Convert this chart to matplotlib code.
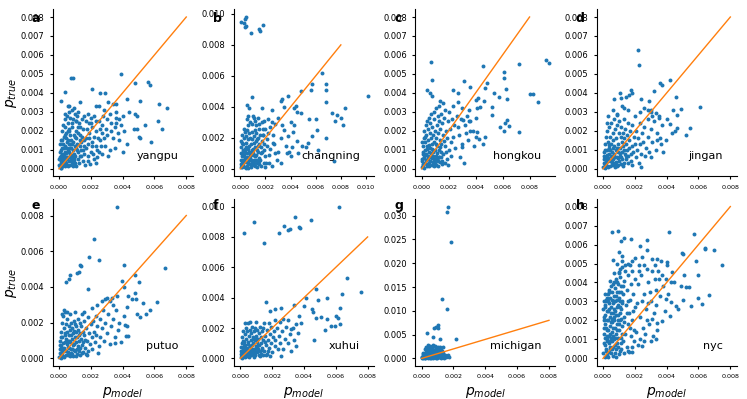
import numpy as np
import matplotlib
matplotlib.use('Agg')
import matplotlib.pyplot as plt
from matplotlib.ticker import MultipleLocator, FormatStrFormatter

# values below are in units of 1e-3 (p_model, p_true)
districts = ['yangpu', 'changning', 'hongkou', 'jingan', 'putuo', 'xuhui', 'michigan', 'nyc']
letters = ['a', 'b', 'c', 'd', 'e', 'f', 'g', 'h']
y_steps = [0.001, 0.002, 0.001, 0.001, 0.002, 0.002, 0.005, 0.001]
diag = [0.0, 0.008]

yangpu_pts = [
    (0.75,4.8),(0.88,4.8),(0.36,4.06),(0.15,3.6),(0.57,3.3),(1.3,3.5),(2.1,4.2),(2.6,4.0),(2.9,4.0),(3.9,5.0),
    (4.75,4.5),(5.6,4.6),(5.7,4.4),(4.3,3.7),(5.1,3.6),(6.3,3.4),(6.8,3.2),(6.2,2.5),(6.5,2.1),(5.8,1.4),
    (5.0,1.7),(5.1,1.6),(5.4,2.3),(4.7,2.1),(4.9,2.1),(4.4,3.0),(4.8,2.9),(4.9,2.8),(4.3,1.3),(4.0,0.9),
    (3.8,1.5),(3.6,2.7),(3.6,2.4),(3.5,2.2),(3.1,3.5),(3.4,3.4),(3.6,3.4),(2.4,0.6),(2.3,0.3),
    (1.8,2.9),(2.0,2.7),(2.2,2.8),(2.5,2.5),(2.7,2.3),(3.0,2.6),(3.2,2.9),(2.8,3.1),(3.3,2.0),(3.0,1.8),
    (2.6,1.5),(2.9,1.2),(3.2,1.0),(2.4,1.0),(2.1,1.4),(1.9,1.9),(2.3,2.0),(2.7,1.9),(3.4,1.6),(3.7,1.9),
    (3.9,2.3),(4.1,2.0),(3.8,2.6),(4.0,2.8),(3.5,1.1),(3.1,0.7),(2.7,0.8),(2.2,0.5),(1.8,0.4),(2.0,0.9),
    (1.6,1.2),(1.7,1.6),(2.5,3.3),(2.3,3.3),(1.9,2.4),(2.1,2.2),(3.6,3.0),(3.3,2.4),
    (0.05,0.1),(0.1,0.3),(0.15,0.05),(0.2,0.5),(0.25,0.2),(0.3,0.8),(0.35,0.4),(0.4,1.2),(0.45,0.6),(0.5,0.2),
    (0.55,1.5),(0.6,0.9),(0.65,0.4),(0.7,1.8),(0.75,1.1),(0.8,0.6),(0.85,2.2),(0.9,1.4),(0.95,0.8),(1.0,0.3),
    (1.05,2.0),(1.1,1.6),(1.15,1.0),(1.2,0.5),(1.25,2.4),(1.3,1.8),(1.35,1.2),(1.4,0.7),(1.45,2.6),(1.5,2.1),
    (0.1,1.0),(0.15,1.5),(0.2,2.0),(0.25,2.3),(0.3,1.7),(0.35,2.6),(0.4,2.2),(0.45,1.9),(0.5,2.8),(0.55,2.4),
    (0.6,3.0),(0.65,2.1),(0.7,2.7),(0.8,3.1),(0.9,2.6),(1.0,2.9),(1.1,2.5),(1.2,3.0),(1.3,2.2),(0.02,0.5),
    (0.05,0.9),(0.08,1.3),(0.12,0.7),(0.18,1.1),(0.22,0.15),(0.28,1.3),(0.32,0.25),(0.38,0.9),(0.42,1.6),(0.48,1.1),
    (0.52,0.5),(0.58,0.15),(0.62,1.3),(0.68,0.8),(0.72,0.2),(0.78,1.5),(0.82,0.35),(0.88,1.0),(0.92,1.8),(0.98,1.2),
    (1.02,0.7),(1.08,0.15),(1.12,1.3),(1.18,1.9),(1.22,0.9),(1.28,0.3),(1.32,1.5),(1.38,1.0),(1.42,1.7),(1.48,0.4),
    (0.03,0.2),(0.07,0.6),(0.1,0.05),(0.13,0.4),(0.17,0.8),(0.23,0.6),(0.27,0.35),(0.33,0.55),(0.37,0.15),(0.43,0.3),
    (0.47,0.85),(0.53,0.65),(0.57,1.0),(0.63,0.6),(0.67,1.1),(0.73,0.45),(0.77,0.75),(0.83,0.55),(0.87,0.15),(0.93,0.45),
    (0.97,0.55),(1.6,0.8),(1.65,0.2),(1.7,1.1),(1.75,2.1),(1.8,1.3),(1.85,0.7),(1.9,1.6),(1.95,0.25),(2.0,2.4),
    (2.05,1.2),(2.15,0.8),(2.2,1.7),(2.3,1.2),(2.35,2.5),(2.45,1.6),(2.5,0.9),(2.55,2.1),(2.65,1.2),(2.75,2.8),
    (2.85,1.6),(2.95,2.1),(1.55,1.5),(1.6,2.8),(1.7,2.5),(1.15,2.8),(0.95,3.2),(0.6,3.3),(0.4,2.9),
    (0.2,1.5),(0.3,1.1),(0.4,0.5),(0.5,1.4),(0.6,2.0),(0.7,1.3),(0.8,2.4),(0.9,0.3),(1.0,1.7),(1.1,1.1),
    (1.2,2.2),(1.3,0.7),(1.4,1.4),(1.5,1.0),(0.55,2.0),(0.85,1.3),(1.05,2.5),(0.35,1.8),
]

changning_pts = [
    (0.05,9.45),(0.27,9.4),(0.4,9.7),(0.45,9.8),(0.35,9.15),(0.48,9.2),(0.85,8.8),(1.47,9.05),(1.6,8.9),(1.79,9.3),
    (0.93,4.65),(0.53,4.1),(0.67,3.9),(1.73,3.9),(2.53,3.8),(3.2,4.4),(3.33,4.5),(3.8,4.7),(3.47,4.0),(4.27,3.95),
    (4.4,4.05),(4.8,5.0),(5.6,5.1),(5.73,5.5),(6.53,6.2),(6.8,5.5),(6.8,5.1),(6.85,4.3),(7.33,3.6),(7.73,3.5),
    (8.0,3.3),(7.5,3.1),(8.2,2.8),(8.3,3.9),(10.13,4.7),(6.0,3.2),(5.47,3.2),(4.8,3.6),(4.53,3.65),(6.13,2.5),
    (5.73,2.1),(6.8,2.0),(6.2,1.2),(5.4,1.7),(5.25,1.4),(7.47,0.5),(4.0,0.8),(3.2,0.35),(3.73,1.0),(4.93,1.45),
    (4.6,1.0),
    (2.5,3.0),(2.8,2.9),(3.0,3.3),(2.2,3.2),(2.0,2.6),(2.6,2.2),(3.2,2.0),(3.5,2.5),(3.8,2.1),(4.2,2.4),
    (4.5,1.8),(3.6,1.5),(3.0,1.1),(2.7,1.6),(2.4,1.3),(2.9,0.6),(2.3,0.4),(4.1,1.4),(3.3,2.8),(4.0,3.0),
    (4.3,2.8),(3.9,1.1),(2.1,1.9),(1.8,2.2),(1.5,2.6),(1.2,3.1),(1.0,3.4),(0.6,3.4),(0.9,2.9),(1.4,3.3),
    (1.7,3.0),
    (0.05,0.1),(0.1,0.4),(0.15,0.8),(0.2,1.2),(0.25,1.6),(0.3,2.0),(0.35,2.4),(0.1,2.2),(0.05,1.8),(0.08,1.4),
    (0.12,1.0),(0.18,0.6),(0.22,0.2),(0.28,0.5),(0.32,0.9),(0.38,1.3),(0.42,1.7),(0.48,2.1),(0.52,2.5),(0.58,2.8),
    (0.62,1.9),(0.68,1.5),(0.72,1.1),(0.78,0.7),(0.82,0.3),(0.88,0.1),(0.92,0.5),(0.98,0.9),(1.02,1.3),(1.08,1.7),
    (1.12,2.1),(1.18,2.5),(1.22,2.8),(1.28,2.3),(1.32,1.9),(1.38,1.5),(1.42,1.1),(1.48,0.7),(1.52,0.3),(1.58,0.6),
    (1.62,1.0),(1.68,1.4),(1.72,1.8),(1.78,2.2),(1.82,2.6),(1.88,1.6),(1.92,1.2),(1.98,0.8),(2.05,0.4),(2.1,1.5),
    (2.2,2.3),(2.3,0.9),(0.4,0.15),(0.45,0.45),(0.55,0.75),(0.6,0.35),(0.65,0.05),(0.7,2.3),(0.75,2.0),(0.85,1.6),
    (0.9,2.4),(0.95,1.2),(1.05,0.6),(1.15,0.2),(1.25,0.9),(1.35,0.4),(1.45,1.6),(1.55,2.2),(1.65,0.2),(1.75,1.1),
    (1.85,0.4),(0.02,0.6),(0.03,1.0),(0.06,0.3),(0.14,0.15),(0.16,1.7),(0.24,0.35),(0.26,2.6),(0.34,0.7),(0.36,1.1),
    (0.44,0.05),(0.46,1.4),(0.54,1.0),(0.56,0.2),(0.64,1.3),(0.66,0.55),(0.74,0.9),(0.76,0.3),(0.84,1.1),(0.86,0.6),
    (0.94,0.25),(0.96,1.9),(1.04,1.0),(1.06,0.35),(1.14,1.4),(1.16,0.8),(1.24,0.55),(1.26,1.8),(1.34,1.2),(1.36,0.15),
    (1.44,2.0),(1.46,0.5),(0.5,3.2),(0.8,3.0),(1.1,3.3),(1.5,2.9),(1.9,3.1),(2.4,2.7),(2.6,1.7),(2.8,1.0),
    (2.5,0.2),(2.0,0.1),
]

hongkou_pts = [
    (0.67,5.62),(0.75,4.69),(0.37,4.13),(0.62,4.02),(0.8,3.85),(1.37,3.55),(1.57,3.46),(2.31,4.17),(2.73,4.02),(3.16,4.64),
    (3.6,4.3),(4.55,5.4),(4.72,4.25),(4.84,4.52),(5.39,4.02),(5.7,3.81),(6.09,4.78),(6.09,5.1),(6.29,4.2),(6.34,3.67),
    (7.2,5.54),(9.22,5.71),(9.44,5.57),(8.07,3.94),(8.25,3.94),(8.65,3.51),(7.25,1.92),(6.34,2.55),(6.46,2.27),(5.79,2.23),
    (6.09,1.97),(6.21,2.41),(5.22,3.25),(5.22,2.85),(4.72,1.7),(4.55,1.32),(4.22,1.56),(4.1,1.92),(4.05,1.7),(3.6,2.02),
    (3.1,2.58),(3.35,2.79),(3.48,2.53),(4.1,3.2),(4.35,3.25),(4.05,3.62),(4.6,3.55),(4.15,3.74),(2.81,0.65),(3.16,0.33),
    (2.98,1.14),(3.85,1.18),(3.4,1.53),
    (0.02,0.1),(0.05,0.4),(0.08,0.8),(0.1,1.2),(0.12,0.2),(0.15,1.6),(0.18,0.6),(0.2,2.0),(0.22,1.0),(0.25,0.3),
    (0.28,1.4),(0.3,2.3),(0.32,0.8),(0.35,1.8),(0.38,0.15),(0.4,2.5),(0.42,1.2),(0.45,0.5),(0.48,2.1),(0.5,1.5),
    (0.52,0.9),(0.55,2.7),(0.58,0.3),(0.6,1.9),(0.62,1.1),(0.65,2.4),(0.68,0.6),(0.7,1.6),(0.72,2.9),(0.75,1.3),
    (0.78,0.2),(0.8,2.2),(0.82,0.9),(0.85,1.8),(0.88,3.0),(0.9,0.5),(0.92,1.4),(0.95,2.6),(0.98,1.0),(1.0,2.0),
    (1.02,0.3),(1.05,3.2),(1.08,1.6),(1.1,0.7),(1.12,2.3),(1.15,1.2),(1.18,2.8),(1.2,0.4),(1.22,1.9),(1.25,1.0),
    (1.28,3.3),(1.3,2.5),(1.32,0.6),(1.35,1.5),(1.38,2.1),(1.4,0.9),(1.42,2.9),(1.45,1.3),(1.48,0.25),(1.5,2.4),
    (1.55,1.8),(1.6,0.8),(1.65,2.7),(1.7,1.2),(1.75,3.1),(1.8,2.0),(1.85,0.5),(1.9,1.6),(1.95,2.5),(2.0,1.0),
    (2.05,3.0),(2.1,2.1),(2.15,1.4),(2.2,0.7),(2.25,2.6),(2.3,1.7),(2.4,2.3),(2.5,1.1),(0.03,0.5),(0.06,1.4),
    (0.09,0.25),(0.13,0.9),(0.17,0.05),(0.21,0.55),(0.24,1.7),(0.27,0.75),(0.33,0.45),(0.37,1.05),(0.43,0.25),(0.47,0.7),
    (0.53,0.15),(0.57,1.25),(0.63,0.4),(0.67,0.85),(0.73,0.55),(0.77,1.05),(0.83,0.35),(0.87,0.7),(0.93,0.15),(0.97,0.45),
    (1.03,1.3),(1.07,0.2),(1.13,0.5),(1.17,0.85),(1.23,0.15),(1.27,0.65),(1.33,1.15),(1.37,0.35),(1.43,0.6),(1.53,0.4),
    (1.63,1.45),(1.73,0.3),(1.83,0.9),(1.93,0.2),(2.6,2.8),(2.7,2.2),(2.8,1.8),(2.9,2.6),(3.0,1.3),(3.2,2.3),
    (3.3,1.9),(3.5,3.1),(3.6,2.5),(3.8,2.0),(4.0,2.7),(2.35,3.3),(2.7,3.5),(3.0,3.2),
]

jingan_pts = [
    (2.21,6.24),(2.25,5.45),(1.73,4.17),(1.05,3.99),(0.67,3.67),(1.14,3.73),(1.47,3.81),(1.62,3.9),(1.83,4.02),(2.36,3.69),
    (3.2,4.08),(3.58,4.52),(3.73,4.41),(4.19,4.69),(4.57,3.78),(4.42,3.08),(4.67,2.85),(4.93,3.15),(6.11,3.25),(5.47,2.14),
    (5.24,1.79),(4.63,2.14),(4.36,1.88),(4.5,1.97),(4.19,2.37),(3.94,1.53),(3.62,1.3),(3.41,1.53),(2.99,0.65),(2.36,0.12),
    (0.25,2.44),(0.88,2.85),(1.31,3.2),(2.88,3.55),(3.03,3.11),(3.3,2.93),(3.52,2.67),
    (0.02,0.1),(0.05,0.5),(0.08,0.9),(0.1,0.2),(0.12,1.3),(0.15,0.6),(0.18,1.7),(0.2,0.3),(0.22,1.0),(0.25,2.0),
    (0.28,0.5),(0.3,1.4),(0.32,0.1),(0.35,0.8),(0.38,2.2),(0.4,1.1),(0.42,0.4),(0.45,1.7),(0.48,0.7),(0.5,2.4),
    (0.52,1.3),(0.55,0.2),(0.58,0.9),(0.6,1.9),(0.62,0.5),(0.65,1.5),(0.68,2.6),(0.7,0.8),(0.72,1.2),(0.75,0.3),
    (0.78,2.1),(0.8,1.0),(0.82,1.6),(0.85,0.6),(0.88,2.3),(0.9,0.15),(0.92,1.3),(0.95,0.9),(0.98,1.9),(1.0,0.4),
    (1.02,2.5),(1.05,1.1),(1.08,0.7),(1.1,1.7),(1.12,0.25),(1.15,2.2),(1.18,1.4),(1.2,0.9),(1.22,0.5),(1.25,1.9),
    (1.28,1.2),(1.3,2.6),(1.32,0.3),(1.35,1.6),(1.38,0.8),(1.4,2.1),(1.42,1.3),(1.45,0.5),(1.48,1.8),(1.5,1.0),
    (1.55,2.4),(1.6,0.7),(1.65,1.5),(1.7,2.0),(1.75,0.4),(1.8,1.2),(1.85,2.3),(1.9,0.9),(1.95,1.7),(2.0,1.3),
    (2.05,0.6),(2.1,2.0),(2.15,1.0),(2.2,1.6),(2.25,0.3),(2.3,2.4),(2.35,1.3),(2.4,0.8),(2.45,1.9),(2.5,1.4),
    (2.6,2.2),(2.65,0.7),(2.7,1.1),(2.8,2.6),(2.85,1.7),(2.9,0.9),(3.0,2.1),(3.1,1.4),(3.2,2.5),(3.3,1.0),
    (3.4,1.9),(3.5,2.8),(3.6,1.6),(3.7,2.3),(3.8,0.9),(4.0,2.6),(0.04,0.3),(0.07,0.7),(0.11,0.05),(0.14,1.0),
    (0.17,0.35),(0.24,0.75),(0.27,0.15),(0.34,0.55),(0.37,1.25),(0.44,0.15),(0.47,1.0),(0.54,0.55),(0.57,0.35),(0.64,1.1),
    (0.67,0.2),(0.74,0.6),(0.77,0.1),(0.84,0.35),(0.87,1.1),(0.94,0.55),(0.97,0.2),(1.04,0.85),(1.14,0.6),(1.24,0.15),
    (1.34,1.0),(1.44,0.7),(1.54,0.3),(1.64,1.1),(1.74,0.8),(1.84,0.2),(0.3,2.8),(0.6,3.1),(0.9,2.9),(1.2,3.3),
    (1.6,3.1),(2.0,2.8),(2.3,3.0),(2.6,3.2),(2.8,3.1),(3.0,3.0),(3.1,2.8),
]

putuo_pts = [
    (3.63,8.5),(2.22,6.68),(1.86,5.66),(2.53,5.53),(1.35,5.25),(1.37,5.16),(1.14,4.79),(1.24,4.82),(0.68,4.69),(0.61,4.45),
    (0.46,4.27),(1.84,3.9),(4.09,5.25),(6.69,5.06),(4.75,4.69),(3.95,4.36),(4.09,4.0),(5.06,4.27),(6.16,3.15),(5.7,2.71),
    (5.44,2.47),(4.89,2.47),(5.1,2.34),(4.85,3.3),(5.27,3.12),(4.81,3.64),(4.37,3.49),(4.6,3.34),(4.26,2.89),(3.63,3.49),
    (3.31,3.4),(3.0,3.36),(4.16,1.87),(4.37,1.26),(4.22,1.26),(3.52,0.85),(2.43,0.33),(1.73,0.24),
    (0.02,0.1),(0.05,0.5),(0.08,1.0),(0.1,0.2),(0.12,1.5),(0.15,0.7),(0.18,2.0),(0.2,0.3),(0.22,1.2),(0.25,2.4),
    (0.28,0.5),(0.3,1.7),(0.32,0.1),(0.35,0.9),(0.38,2.6),(0.4,1.3),(0.42,0.4),(0.45,1.9),(0.48,0.8),(0.5,2.2),
    (0.52,1.5),(0.55,0.2),(0.58,1.0),(0.6,1.8),(0.62,0.6),(0.65,1.3),(0.68,2.5),(0.7,0.9),(0.72,1.6),(0.75,0.3),
    (0.78,2.0),(0.8,1.1),(0.82,1.7),(0.85,0.5),(0.88,1.4),(0.9,0.15),(0.92,2.1),(0.95,0.8),(0.98,1.2),(1.0,1.9),
    (1.02,0.4),(1.05,1.5),(1.08,0.9),(1.1,1.8),(1.12,0.25),(1.15,1.2),(1.18,2.2),(1.2,0.7),(1.22,1.6),(1.25,0.4),
    (1.28,1.0),(1.3,2.0),(1.32,1.4),(1.35,0.6),(1.38,1.8),(1.4,1.1),(1.42,2.5),(1.45,0.3),(1.48,1.5),(1.5,0.9),
    (1.55,2.1),(1.6,1.3),(1.65,0.6),(1.7,1.7),(1.75,1.0),(1.8,2.3),(1.85,0.4),(1.9,1.4),(1.95,0.8),(2.0,1.9),
    (2.05,1.2),(2.1,0.5),(2.15,2.1),(2.2,1.5),(2.25,0.9),(2.3,2.4),(2.35,1.3),(2.4,1.8),(2.5,0.7),(2.55,2.2),
    (2.6,1.2),(2.7,1.7),(2.75,2.7),(2.8,1.0),(2.9,2.0),(3.0,1.4),(3.1,2.5),(3.2,0.8),(3.3,1.8),(3.4,2.2),
    (3.5,1.2),(3.6,2.7),(3.7,1.6),(3.8,2.0),(3.9,0.9),(4.1,2.4),(4.3,1.8),(0.04,0.3),(0.07,0.75),(0.11,0.05),
    (0.14,1.2),(0.17,0.4),(0.24,0.85),(0.27,0.15),(0.34,0.6),(0.37,1.45),(0.44,0.2),(0.47,1.1),(0.54,0.65),(0.57,0.35),
    (0.64,0.95),(0.67,0.15),(0.74,0.55),(0.77,1.3),(0.84,0.25),(0.87,0.75),(0.94,0.45),(0.97,1.55),(1.04,0.15),(1.14,0.55),
    (1.24,1.3),(1.34,0.2),(1.44,0.75),(1.54,0.35),(1.64,1.05),(1.74,0.2),(0.3,2.7),(0.5,2.6),(0.2,2.5),(1.0,2.6),
    (1.6,2.6),(2.1,2.8),(2.4,3.0),(2.7,3.2),(3.2,3.2),(2.9,3.3),(3.4,3.0),
]

xuhui_pts = [
    (0.25,8.26),(0.84,8.96),(1.51,7.61),(2.45,8.26),(2.72,8.7),(2.97,8.44),(3.14,8.52),(3.46,9.31),(3.66,8.66),(3.77,8.59),
    (4.44,9.14),(6.18,10.0),(6.68,5.31),(6.39,4.26),(7.58,4.37),(4.75,4.59),(5.42,3.96),(4.86,3.83),(4.48,3.28),(4.59,3.06),
    (4.75,2.69),(5.07,2.76),(5.44,2.62),(5.7,2.14),(5.34,1.88),(5.97,2.14),(6.01,2.8),(6.16,2.69),(6.26,2.25),(6.28,3.34),
    (4.02,3.45),(4.13,4.0),(1.63,3.72),(1.88,3.13),(2.2,3.23),(2.55,3.34),(3.39,3.5),(3.71,2.8),(3.5,2.25),(3.18,1.92),
    (3.5,0.83),(4.65,1.22),(2.55,0.13),
    (0.02,0.1),(0.05,0.5),(0.08,1.0),(0.1,0.2),(0.12,1.4),(0.15,0.7),(0.18,1.8),(0.2,0.3),(0.22,1.1),(0.25,0.5),
    (0.28,1.6),(0.3,0.15),(0.32,0.9),(0.35,2.0),(0.38,1.3),(0.4,0.4),(0.42,1.8),(0.45,0.7),(0.48,1.1),(0.5,2.3),
    (0.52,0.3),(0.55,1.5),(0.58,0.8),(0.6,1.9),(0.62,0.5),(0.65,1.2),(0.68,0.2),(0.7,1.7),(0.72,0.9),(0.75,2.1),
    (0.78,0.4),(0.8,1.4),(0.82,1.0),(0.85,0.6),(0.88,1.8),(0.9,0.2),(0.92,1.2),(0.95,2.0),(0.98,0.8),(1.0,1.5),
    (1.02,0.4),(1.05,1.1),(1.08,1.9),(1.1,0.6),(1.12,1.3),(1.15,0.2),(1.18,1.7),(1.2,0.9),(1.22,2.1),(1.25,0.5),
    (1.28,1.4),(1.3,1.0),(1.32,0.3),(1.35,1.8),(1.38,0.7),(1.4,1.2),(1.45,2.0),(1.5,0.5),(1.55,1.5),(1.6,0.9),
    (1.65,1.9),(1.7,0.3),(1.75,1.2),(1.8,0.7),(1.85,1.6),(1.9,2.1),(1.95,1.0),(2.0,0.4),(2.05,1.4),(2.1,1.8),
    (2.15,0.8),(2.2,1.2),(2.3,2.0),(2.35,0.6),(2.4,1.5),(2.5,1.0),(2.6,1.8),(2.7,0.6),(2.8,1.3),(2.9,2.1),
    (3.0,1.0),(3.1,1.6),(3.2,0.5),(3.3,2.0),(3.4,1.2),(3.6,1.7),(3.8,2.3),(2.5,2.4),(2.2,2.5),(1.8,2.3),
    (1.5,2.3),(2.7,2.6),(3.0,2.5),(0.3,2.3),(0.6,2.4),(1.0,2.4),(0.04,0.3),(0.07,0.75),(0.11,0.05),(0.14,1.15),
    (0.17,0.4),(0.24,0.85),(0.27,0.1),(0.34,0.6),(0.37,0.25),(0.44,0.15),(0.47,0.95),(0.54,0.55),(0.57,0.1),(0.64,0.85),
    (0.67,0.45),(0.74,0.6),(0.77,1.25),(0.84,0.3),(0.87,0.1),(0.94,0.5),(0.97,1.25),(1.04,0.7),(1.14,0.9),(1.24,0.15),
    (1.34,0.55),(1.44,0.25),(1.54,1.1),(1.64,0.2),(1.74,0.5),(1.84,0.15),
]

michigan_pts = [
    (1.68,31.9),(1.61,30.8),(1.82,24.4),(1.26,12.4),(1.57,10.4),(2.14,4.0),(0.31,5.4),(0.77,6.3),(0.9,6.5),(1.0,7.0),
    (1.0,6.3),(1.15,4.0),(0.73,4.5),(1.32,2.3),
    (0.02,0.05),(0.05,0.2),(0.08,0.5),(0.1,0.1),(0.12,0.8),(0.15,0.3),(0.18,1.1),(0.2,0.05),(0.22,0.6),(0.25,1.4),
    (0.28,0.2),(0.3,0.9),(0.32,0.4),(0.35,1.7),(0.38,0.1),(0.4,0.7),(0.42,1.2),(0.45,0.3),(0.48,2.0),(0.5,0.5),
    (0.52,1.0),(0.55,0.15),(0.58,1.5),(0.6,0.6),(0.62,0.3),(0.65,2.3),(0.68,0.9),(0.7,0.1),(0.72,1.3),(0.75,0.5),
    (0.78,1.8),(0.8,0.25),(0.82,0.8),(0.85,1.1),(0.88,0.4),(0.9,2.1),(0.92,0.6),(0.95,0.15),(0.98,1.4),(1.0,0.9),
    (1.02,0.35),(1.05,1.7),(1.08,0.6),(1.1,0.2),(1.12,1.0),(1.15,2.4),(1.18,0.45),(1.2,1.3),(1.25,0.7),(1.3,0.3),
    (1.35,1.1),(1.4,0.5),(1.45,0.8),(1.5,0.4),(1.55,0.6),(0.04,0.35),(0.14,0.6),(0.24,0.15),(0.34,0.75),(0.44,0.45),
    (0.54,0.7),(0.64,0.2),(0.74,0.95),(0.84,0.5),(0.94,0.25),(1.04,0.55),(1.14,0.3),(0.3,2.5),(0.4,2.8),(0.55,2.6),
    (0.7,2.9),(0.85,2.7),(1.0,2.5),(0.2,1.9),(0.6,2.1),
    (1.6,0.5),(1.7,0.3),(1.65,0.8),(1.3,1.5),(1.2,1.8),(1.1,1.5),(0.95,1.9),(0.8,1.5),(0.7,1.7),(0.5,1.6),
    (0.45,1.3),(0.35,1.1),(0.25,0.9),(0.15,0.6),(0.06,0.9),(0.1,1.2),(0.58,0.05),(0.88,0.05),(1.2,0.1),(1.4,0.15),
    (0.3,0.45),(0.47,0.85),(0.67,1.15),(0.87,1.35),(1.07,1.2),(1.28,1.0),(0.62,1.9),(0.92,2.3),(1.05,2.1),(0.38,2.2),
]

nyc_pts = [
    (0.57,6.68),(0.95,6.72),(1.14,6.19),(1.31,6.37),(1.77,6.28),(2.32,5.93),(2.74,6.23),(2.78,5.7),(4.15,6.68),(5.73,6.58),
    (6.4,5.84),(6.42,5.75),(6.99,5.72),(7.45,4.93),(5.87,5.14),(4.99,5.53),(5.05,5.49),(6.0,4.4),(5.09,4.39),(5.2,3.77),
    (5.41,3.74),(5.03,3.09),(5.94,3.18),(6.25,2.86),(6.65,3.35),(5.52,2.77),(4.57,2.77),(4.72,2.6),(4.21,2.21),(3.73,1.98),
    (3.37,1.86),(3.35,1.02),(2.46,0.67),(1.83,0.32),(1.66,0.35),(3.41,5.23),(3.62,5.14),(4.04,5.09),(3.05,5.26),(2.42,5.32),
    (1.83,5.14),(1.2,5.14),(1.09,4.7),(0.99,4.53),(2.25,4.61),(2.78,4.7),(3.24,4.18),(3.94,4.18),(4.36,4.53),(4.46,4.04),
    (4.88,3.82),(3.94,3.12),(4.25,2.95),
    (0.02,0.3),(0.05,0.8),(0.08,1.3),(0.1,1.8),(0.12,2.3),(0.15,2.8),(0.18,3.1),(0.2,0.5),(0.22,1.0),(0.25,1.5),
    (0.28,2.0),(0.3,2.5),(0.03,2.6),(0.06,3.0),(0.09,2.0),(0.13,1.1),(0.16,0.4),(0.19,1.6),(0.24,3.2),(0.27,0.2),
    (0.32,3.0),(0.35,0.8),(0.38,1.2),(0.4,3.5),(0.42,1.7),(0.45,2.2),(0.48,2.7),(0.5,0.3),(0.52,3.8),(0.55,1.4),
    (0.58,1.9),(0.6,2.4),(0.62,2.9),(0.65,0.6),(0.68,3.3),(0.7,1.0),(0.34,2.0),(0.37,2.6),(0.44,0.5),(0.47,1.3),
    (0.54,3.1),(0.57,2.1),(0.64,1.6),(0.67,4.0),(0.36,3.6),(0.46,4.1),(0.56,0.9),(0.66,2.6),
    (0.72,2.0),(0.75,2.5),(0.78,3.0),(0.8,4.2),(0.82,1.3),(0.85,1.8),(0.88,3.5),(0.9,0.8),(0.92,2.3),(0.95,2.8),
    (0.98,4.5),(1.0,1.5),(1.02,3.2),(1.05,0.4),(1.08,2.0),(1.1,3.8),(1.12,1.1),(1.15,2.6),(1.18,4.8),(1.2,1.7),
    (0.74,3.7),(0.84,0.5),(0.94,3.9),(1.04,2.4),(1.14,0.8),(0.77,1.6),(0.87,2.7),(0.97,1.1),(1.07,4.3),(1.17,3.0),
    (1.25,3.4),(1.3,2.2),(1.35,4.1),(1.4,1.3),(1.45,2.8),(1.5,3.6),(1.55,1.8),(1.6,4.4),(1.65,2.4),(1.7,3.1),
    (1.75,1.2),(1.8,4.6),(1.85,2.0),(1.9,3.4),(1.95,0.9),(2.0,2.7),(1.28,0.9),(1.38,4.6),(1.48,0.6),(1.58,3.0),
    (1.68,1.6),(1.78,3.9),(1.88,2.5),(1.98,4.2),(1.32,1.9),(1.52,2.4),(1.72,4.9),(1.92,1.5),
    (2.1,1.4),(2.2,3.9),(2.3,2.2),(2.4,4.4),(2.5,1.6),(2.6,3.4),(2.7,2.6),(2.8,4.0),(2.9,1.8),(3.0,3.0),
    (3.1,4.6),(3.2,2.4),(3.3,3.6),(3.4,1.5),(3.5,4.2),(2.15,2.9),(2.35,1.0),(2.55,4.9),(2.75,2.0),(2.95,3.5),
    (3.15,1.2),(3.35,2.8),(3.55,3.3),(3.7,4.4),(3.8,3.8),(3.9,2.5),(4.0,4.9),(4.1,3.4),(4.3,4.0),(2.25,4.9),
    (2.45,3.0),(2.65,1.3),(2.85,2.9),(3.05,2.1),(3.25,4.9),(3.45,4.6),(1.6,5.0),(2.0,5.3),(1.4,4.9),(0.9,5.0),
    (0.7,4.5),(0.6,5.2),(1.0,5.6),(1.2,5.4),
    (0.1,0.1),(0.3,0.05),(0.6,0.15),(0.8,0.1),(1.0,0.25),(0.4,0.35),(0.15,0.7),(0.25,0.9),(0.45,0.9),(0.55,0.5),
    (0.75,0.3),(0.95,0.6),(1.1,0.5),(1.3,0.3),(1.6,0.4),(1.8,0.6),(2.2,0.7),(2.6,0.9),(3.0,0.9),
    (0.05,1.6),(0.07,2.2),(0.11,2.7),(0.14,3.4),(0.2,3.0),(0.23,2.5),(0.26,1.2),(0.29,3.4),(0.33,1.5),(0.39,2.9),
    (0.43,3.2),(0.49,1.9),(0.51,2.4),(0.59,3.5),(0.61,1.2),(0.63,3.9),(0.69,2.2),(0.71,3.0),(0.76,1.1),(0.79,2.3),
    (0.83,3.3),(0.86,4.0),(0.89,1.5),(0.91,3.1),(0.96,2.0),(0.99,3.5),(1.03,1.8),(1.06,3.0),(1.09,2.7),(1.13,3.5),
    (1.16,2.1),(1.19,1.3),(1.22,2.9),(1.27,3.8),(0.41,0.6),(0.53,1.1),(0.73,0.7),
]

all_pts = [yangpu_pts, changning_pts, hongkou_pts, jingan_pts,
           putuo_pts, xuhui_pts, michigan_pts, nyc_pts]

fig, axes = plt.subplots(2, 4, figsize=(7.47, 3.99), dpi=100)
fig.subplots_adjust(left=0.0704, right=0.9862, bottom=0.0827, top=0.9764,
                    wspace=0.295, hspace=0.135)

for i, ax in enumerate(axes.flat):
    pts = np.array(all_pts[i]) * 1e-3
    ax.scatter(pts[:, 0], pts[:, 1], s=8, color='#1f77b4', linewidths=0, zorder=2)
    ax.plot(diag, diag, color='#ff7f0e', lw=1, zorder=3)
    ax.spines['top'].set_visible(False)
    ax.spines['right'].set_visible(False)
    ax.xaxis.set_major_locator(MultipleLocator(0.002))
    ax.yaxis.set_major_locator(MultipleLocator(y_steps[i]))
    ax.xaxis.set_major_formatter(FormatStrFormatter('%.3f'))
    ax.yaxis.set_major_formatter(FormatStrFormatter('%.3f'))
    ax.tick_params(axis='x', labelsize=4.6, length=2.5)
    ax.tick_params(axis='y', labelsize=6, length=2.5)
    ax.text(0.9, 0.12, districts[i], transform=ax.transAxes, ha='right', va='center', fontsize=8)
    ly = 0.925 if i < 4 else 0.94
    ax.text(-0.15, ly, letters[i], transform=ax.transAxes, ha='left', va='baseline',
            fontsize=9, fontweight='bold')
    if i % 4 == 0:
        ax.set_ylabel('$p_{true}$', fontsize=10, labelpad=1)
    if i >= 4:
        ax.set_xlabel('$p_{model}$', fontsize=10)

fig.savefig('out.png', dpi=100)
